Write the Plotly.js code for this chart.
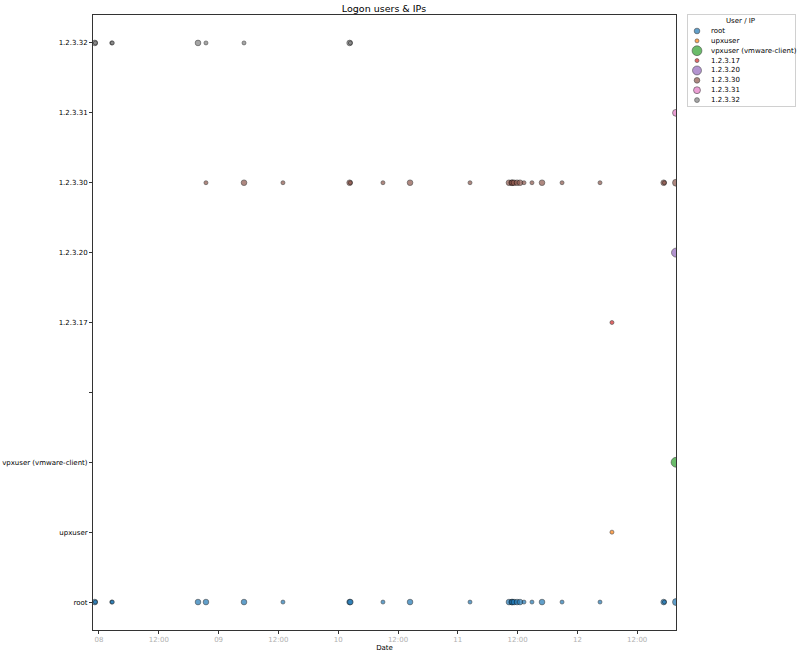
<!DOCTYPE html>
<html><head><meta charset="utf-8">
<script src="https://cdn.plot.ly/plotly-3.0.1.min.js"></script>
<style>html,body{margin:0;padding:0;background:#fff}#chart{width:800px;height:655px}</style>
</head><body><div id="chart"></div>
<script>
// ---- data ----
const yLabels = ['root','upxuser','vpxuser (vmware-client)','','1.2.3.17','1.2.3.20','1.2.3.30','1.2.3.31','1.2.3.32'];
const seriesNames = ['root','upxuser','vpxuser (vmware-client)','1.2.3.17','1.2.3.20','1.2.3.30','1.2.3.31','1.2.3.32'];
const seriesColors = ['#1f77b4','#ff7f0e','#2ca02c','#d62728','#9467bd','#8c564b','#e377c2','#7f7f7f'];

const rootTimes = ['2023-05-07 23:10','2023-05-07 23:16','2023-05-08 02:33','2023-05-08 02:41','2023-05-08 19:52','2023-05-08 21:28','2023-05-09 05:06','2023-05-09 12:55','2023-05-10 02:18','2023-05-10 02:26','2023-05-10 08:59','2023-05-10 14:25','2023-05-11 02:27','2023-05-11 10:16','2023-05-11 10:49','2023-05-11 10:57','2023-05-11 11:17','2023-05-11 11:53','2023-05-11 12:29','2023-05-11 13:17','2023-05-11 14:53','2023-05-11 16:54','2023-05-11 20:55','2023-05-12 04:32','2023-05-12 17:19','2023-05-12 17:27','2023-05-12 19:47'];
const rootCounts = [2,1,1,1,2,2,2,1,2,2,1,2,1,2,2,2,2,2,2,1,1,2,1,1,2,1,3];

const upxTimes = ['2023-05-12 06:56'];
const upxCounts = [1];

const vpxTimes = ['2023-05-12 19:47'];
const vpxCounts = [6];

const ip17Times = ['2023-05-12 06:56'];
const ip17Counts = [1];

const ip20Times = ['2023-05-12 19:47'];
const ip20Counts = [5];

const ip30Times = ['2023-05-08 21:28','2023-05-09 05:06','2023-05-09 12:55','2023-05-10 02:18','2023-05-10 02:26','2023-05-10 08:59','2023-05-10 14:25','2023-05-11 02:27','2023-05-11 10:16','2023-05-11 10:49','2023-05-11 10:57','2023-05-11 11:17','2023-05-11 11:53','2023-05-11 12:29','2023-05-11 13:17','2023-05-11 14:53','2023-05-11 16:54','2023-05-11 20:55','2023-05-12 04:32','2023-05-12 17:19','2023-05-12 17:27','2023-05-12 19:47'];
const ip30Counts = [1,2,1,2,1,1,2,1,2,2,2,2,2,2,1,1,2,1,1,2,1,3];

const ip31Times = ['2023-05-12 19:47'];
const ip31Counts = [3];

const ip32Times = ['2023-05-07 23:10','2023-05-07 23:16','2023-05-08 02:33','2023-05-08 02:41','2023-05-08 19:52','2023-05-08 21:28','2023-05-09 05:06','2023-05-10 02:18','2023-05-10 02:26'];
const ip32Counts = [2,1,1,1,2,1,1,2,1];

const tickDates = ['2023-05-08 00:00','2023-05-08 12:00','2023-05-09 00:00','2023-05-09 12:00','2023-05-10 00:00','2023-05-10 12:00','2023-05-11 00:00','2023-05-11 12:00','2023-05-12 00:00','2023-05-12 12:00'];
const tickLabels = ['08','12:00','09','12:00','10','12:00','11','12:00','12','12:00'];
const xRange = ['2023-05-07 22:48','2023-05-12 19:47'];

// ---- build ----
const seriesTimes = [rootTimes, upxTimes, vpxTimes, ip17Times, ip20Times, ip30Times, ip31Times, ip32Times];
const seriesCounts = [rootCounts, upxCounts, vpxCounts, ip17Counts, ip20Counts, ip30Counts, ip31Counts, ip32Counts];
const FONT = 'DejaVu Sans, sans-serif';
const SIZEREF = 0.125;

const data = seriesNames.map((name, i) => ({
  type: 'scatter', mode: 'markers', name: name,
  x: seriesTimes[i],
  y: seriesTimes[i].map(() => yLabels.indexOf(name)),
  xaxis: 'x', yaxis: 'y',
  cliponaxis: true,
  marker: {
    color: seriesColors[i], opacity: 0.7,
    size: seriesCounts[i], sizemode: 'area', sizeref: SIZEREF,
    line: {color: '#000', width: 0.6}
  },
  hoverinfo: 'skip', showlegend: false
}));

// custom compact legend (matplotlib style: size = mid of min/max)
const legendSizes = seriesCounts.map(c => (Math.min(...c) + Math.max(...c)) / 2);
data.push({
  type: 'scatter', mode: 'markers', xaxis: 'x2', yaxis: 'y2',
  x: seriesNames.map(() => 9),
  y: seriesNames.map((_, i) => i),
  marker: {color: seriesColors, opacity: 0.7, size: legendSizes, sizemode: 'area', sizeref: SIZEREF,
           line: {color: '#000', width: 0.6}},
  hoverinfo: 'skip', showlegend: false, cliponaxis: false
});

const annotations = seriesNames.map((name, i) => ({
  xref: 'x2', yref: 'y2', x: 21, y: i, text: name, showarrow: false,
  xanchor: 'left', yanchor: 'middle', font: {family: FONT, size: 7, color: '#000'}
}));
annotations.push({xref: 'x2', yref: 'y2', x: 52, y: -1, text: 'User / IP', showarrow: false,
  xanchor: 'center', yanchor: 'middle', font: {family: FONT, size: 7, color: '#000'}});

const plotW = 702;
const layout = {
  width: 800, height: 655,
  margin: {l: 93, r: 5, t: 15, b: 25},
  paper_bgcolor: '#fff', plot_bgcolor: '#fff',
  font: {family: FONT, size: 7, color: '#000'},
  showlegend: false, hovermode: false,
  title: {text: 'Logon users & IPs', font: {family: FONT, size: 9.5, color: '#000'},
          xref: 'container', x: 384 / 800, xanchor: 'center',
          yref: 'container', y: 1 - 9 / 655, yanchor: 'middle'},
  xaxis: {
    type: 'date', domain: [0, 583 / plotW], range: xRange, anchor: 'y',
    tickmode: 'array', tickvals: tickDates, ticktext: tickLabels,
    ticks: 'outside', ticklen: 3, tickwidth: 0.8, tickcolor: '#000',
    showline: true, mirror: true, linecolor: '#333', linewidth: 1,
    showgrid: false, zeroline: false,
    tickfont: {family: FONT, size: 7, color: '#b0b0b0'},
    title: {text: 'Date', font: {family: FONT, size: 7, color: '#000'}, standoff: 0}
  },
  yaxis: {
    range: [-0.4, 8.4], anchor: 'x',
    tickmode: 'array', tickvals: yLabels.map((_, i) => i), ticktext: yLabels,
    ticks: 'outside', ticklen: 3, tickwidth: 0.8, tickcolor: '#000',
    showline: true, mirror: true, linecolor: '#333', linewidth: 1,
    showgrid: false, zeroline: false,
    tickfont: {family: FONT, size: 7, color: '#000'}
  },
  xaxis2: {
    domain: [(688 - 93) / plotW, 1], range: [0, 107], anchor: 'y2',
    showticklabels: false, ticks: '', showgrid: false, zeroline: false,
    showline: true, mirror: true, linecolor: '#d0d0d0', linewidth: 1, fixedrange: true
  },
  yaxis2: {
    domain: [(630 - 106) / 615, 1], range: [7.6, -1.62], anchor: 'x2',
    showticklabels: false, ticks: '', showgrid: false, zeroline: false,
    showline: true, mirror: true, linecolor: '#d0d0d0', linewidth: 1, fixedrange: true
  },
  annotations: annotations
};

Plotly.newPlot('chart', data, layout, {staticPlot: true, displayModeBar: false});
</script>
</body></html>
